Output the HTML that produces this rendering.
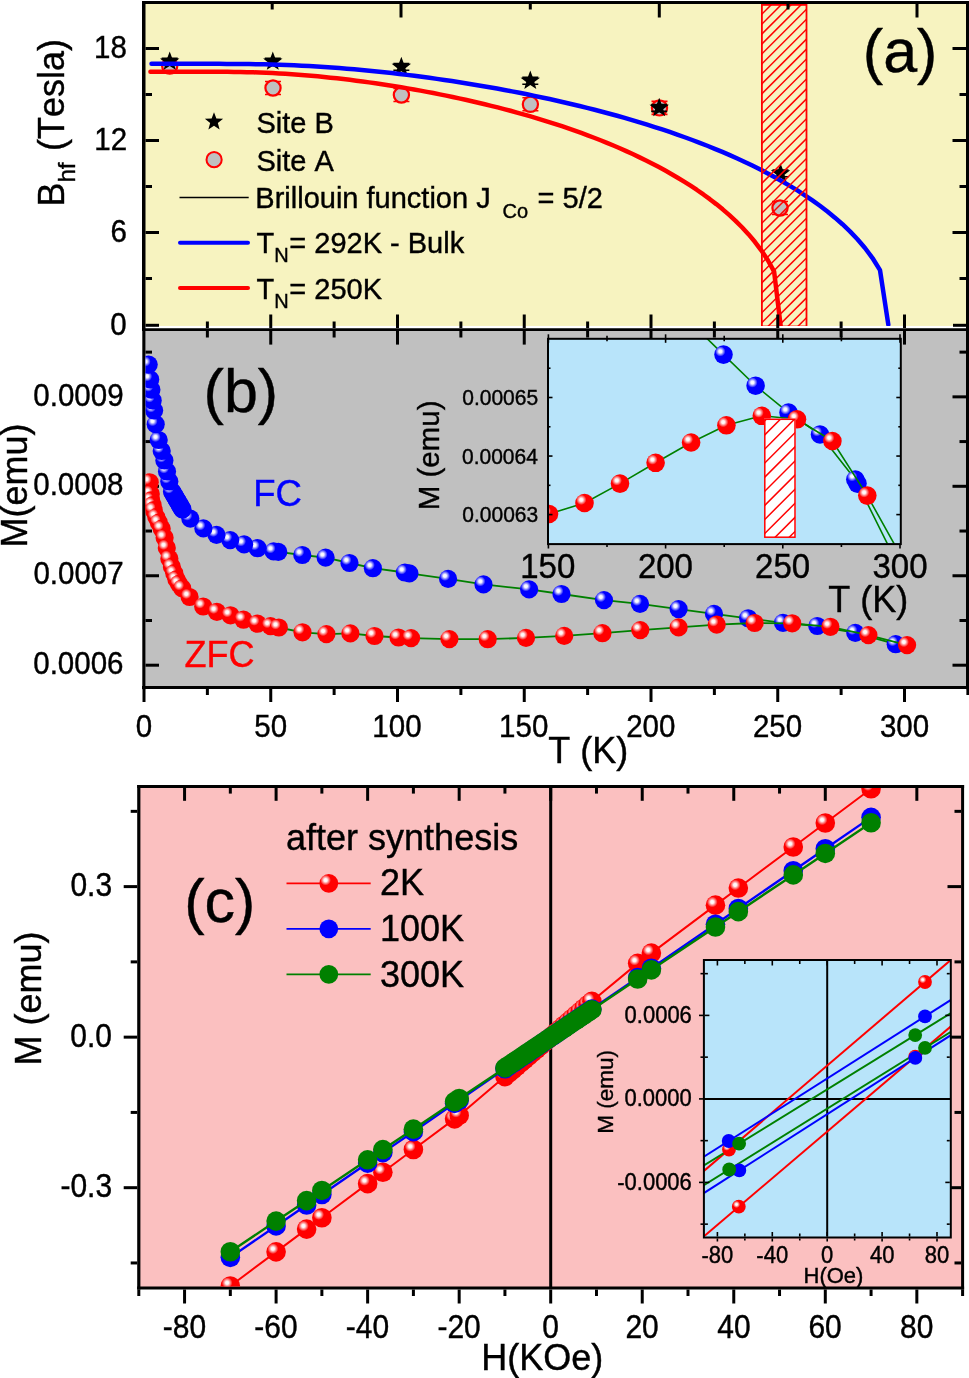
<!DOCTYPE html><html><head><meta charset="utf-8"><style>html,body{margin:0;padding:0;background:#fff}svg{display:block}text{font-kerning:none;font-variant-ligatures:none}svg{will-change:transform}</style></head><body><svg width="969" height="1378" viewBox="0 0 969 1378" font-family='"Liberation Sans", sans-serif'>
<defs>
<radialGradient id="hl"><stop offset="0" stop-color="#fff" stop-opacity="1"/><stop offset="0.3" stop-color="#fff" stop-opacity="0.95"/><stop offset="1" stop-color="#fff" stop-opacity="0"/></radialGradient>
<clipPath id="clipA"><rect x="145.5" y="4" width="820.5" height="322"/></clipPath>
<clipPath id="clipB"><rect x="145.5" y="331" width="820.5" height="355"/></clipPath>
<clipPath id="clipBi"><rect x="548.4" y="338.8" width="351.6" height="204.8"/></clipPath>
<clipPath id="clipC"><rect x="140.2" y="788" width="818" height="498.5"/></clipPath>
<clipPath id="clipCi"><rect x="704" y="961" width="246" height="275.5"/></clipPath>
<clipPath id="hatchA"><rect x="762" y="5" width="44.5" height="321"/></clipPath>
<clipPath id="hatchB"><rect x="764.5" y="419.3" width="30.6" height="118"/></clipPath>
</defs>
<rect x="0" y="0" width="969" height="1378" fill="#fff"/>
<rect x="142" y="1" width="827" height="325" fill="#F7F3C0"/>
<g clip-path="url(#clipA)">
<line x1="161.7" y1="59.5" x2="177.7" y2="59.5" stroke="#f00" stroke-width="1.6" />
<line x1="161.7" y1="72.5" x2="177.7" y2="72.5" stroke="#f00" stroke-width="1.6" />
<line x1="169.7" y1="59.5" x2="169.7" y2="72.5" stroke="#f00" stroke-width="1.6" />
<circle cx="169.7" cy="66" r="7.6" fill="#C0C0C0" stroke="#f00" stroke-width="2.2"/>
<line x1="265" y1="81.5" x2="281" y2="81.5" stroke="#f00" stroke-width="1.6" />
<line x1="265" y1="94.5" x2="281" y2="94.5" stroke="#f00" stroke-width="1.6" />
<line x1="273" y1="81.5" x2="273" y2="94.5" stroke="#f00" stroke-width="1.6" />
<circle cx="273" cy="88" r="7.6" fill="#C0C0C0" stroke="#f00" stroke-width="2.2"/>
<line x1="393.4" y1="88.5" x2="409.4" y2="88.5" stroke="#f00" stroke-width="1.6" />
<line x1="393.4" y1="101.5" x2="409.4" y2="101.5" stroke="#f00" stroke-width="1.6" />
<line x1="401.4" y1="88.5" x2="401.4" y2="101.5" stroke="#f00" stroke-width="1.6" />
<circle cx="401.4" cy="95" r="7.6" fill="#C0C0C0" stroke="#f00" stroke-width="2.2"/>
<line x1="522.4" y1="97.8" x2="538.4" y2="97.8" stroke="#f00" stroke-width="1.6" />
<line x1="522.4" y1="110.8" x2="538.4" y2="110.8" stroke="#f00" stroke-width="1.6" />
<line x1="530.4" y1="97.8" x2="530.4" y2="110.8" stroke="#f00" stroke-width="1.6" />
<circle cx="530.4" cy="104.3" r="7.6" fill="#C0C0C0" stroke="#f00" stroke-width="2.2"/>
<line x1="651.5" y1="101.4" x2="667.5" y2="101.4" stroke="#f00" stroke-width="1.6" />
<line x1="651.5" y1="114.4" x2="667.5" y2="114.4" stroke="#f00" stroke-width="1.6" />
<line x1="659.5" y1="101.4" x2="659.5" y2="114.4" stroke="#f00" stroke-width="1.6" />
<circle cx="659.5" cy="107.9" r="7.6" fill="#C0C0C0" stroke="#f00" stroke-width="2.2"/>
<line x1="772" y1="201.5" x2="788" y2="201.5" stroke="#f00" stroke-width="1.6" />
<line x1="772" y1="214.5" x2="788" y2="214.5" stroke="#f00" stroke-width="1.6" />
<line x1="780" y1="201.5" x2="780" y2="214.5" stroke="#f00" stroke-width="1.6" />
<circle cx="780" cy="208" r="7.6" fill="#C0C0C0" stroke="#f00" stroke-width="2.2"/>
<line x1="161.7" y1="65" x2="177.7" y2="65" stroke="#000" stroke-width="1.6" />
<line x1="161.7" y1="58.2" x2="177.7" y2="58.2" stroke="#000" stroke-width="1.6" />
<path d="M169.7,51.4 L172.22,58.13 L179.4,58.45 L173.77,62.92 L175.7,69.85 L169.7,65.88 L163.7,69.85 L165.63,62.92 L160,58.45 L167.18,58.13Z" fill="#000"/>
<line x1="264.8" y1="65" x2="280.8" y2="65" stroke="#000" stroke-width="1.6" />
<line x1="264.8" y1="58.2" x2="280.8" y2="58.2" stroke="#000" stroke-width="1.6" />
<path d="M272.8,51.4 L275.32,58.13 L282.5,58.45 L276.87,62.92 L278.8,69.85 L272.8,65.88 L266.8,69.85 L268.73,62.92 L263.1,58.45 L270.28,58.13Z" fill="#000"/>
<line x1="393.35" y1="70.25" x2="409.35" y2="70.25" stroke="#000" stroke-width="1.6" />
<line x1="393.35" y1="63.45" x2="409.35" y2="63.45" stroke="#000" stroke-width="1.6" />
<path d="M401.35,56.65 L403.87,63.38 L411.05,63.7 L405.42,68.17 L407.35,75.1 L401.35,71.13 L395.35,75.1 L397.28,68.17 L391.65,63.7 L398.83,63.38Z" fill="#000"/>
<line x1="522.3" y1="84.2" x2="538.3" y2="84.2" stroke="#000" stroke-width="1.6" />
<line x1="522.3" y1="77.4" x2="538.3" y2="77.4" stroke="#000" stroke-width="1.6" />
<path d="M530.3,70.6 L532.82,77.33 L540,77.65 L534.37,82.12 L536.3,89.05 L530.3,85.08 L524.3,89.05 L526.23,82.12 L520.6,77.65 L527.78,77.33Z" fill="#000"/>
<line x1="651.2" y1="111.4" x2="667.2" y2="111.4" stroke="#000" stroke-width="1.6" />
<line x1="651.2" y1="104.6" x2="667.2" y2="104.6" stroke="#000" stroke-width="1.6" />
<path d="M659.2,97.8 L661.72,104.53 L668.9,104.85 L663.27,109.32 L665.2,116.25 L659.2,112.28 L653.2,116.25 L655.13,109.32 L649.5,104.85 L656.68,104.53Z" fill="#000"/>
<line x1="772.5" y1="176.8" x2="788.5" y2="176.8" stroke="#000" stroke-width="1.6" />
<line x1="772.5" y1="170" x2="788.5" y2="170" stroke="#000" stroke-width="1.6" />
<path d="M780.5,163.2 L783.02,169.93 L790.2,170.25 L784.57,174.72 L786.5,181.65 L780.5,177.68 L774.5,181.65 L776.43,174.72 L770.8,170.25 L777.98,169.93Z" fill="#000"/>
<polyline points="151.51,63.84 159.02,63.84 166.53,63.84 174.04,63.84 181.55,63.84 189.06,63.84 196.57,63.84 204.08,63.84 211.59,63.85 219.1,63.86 226.61,63.88 234.12,63.92 241.63,63.98 249.14,64.07 256.65,64.19 264.16,64.34 271.67,64.53 279.18,64.75 286.69,65.02 294.2,65.33 301.72,65.68 309.23,66.08 316.74,66.51 324.25,66.99 331.76,67.51 339.27,68.08 346.78,68.68 354.29,69.32 361.8,70 369.31,70.72 376.82,71.48 384.33,72.28 391.84,73.11 399.35,73.98 406.86,74.89 414.37,75.83 421.88,76.81 429.39,77.83 436.9,78.88 444.41,79.96 451.92,81.08 459.43,82.24 466.94,83.43 474.45,84.66 481.96,85.93 489.47,87.23 496.98,88.57 504.49,89.95 512,91.37 519.51,92.82 527.02,94.32 534.53,95.86 542.04,97.44 549.55,99.06 557.06,100.73 564.57,102.44 572.08,104.19 579.59,106 587.1,107.85 594.61,109.76 602.12,111.72 609.63,113.73 617.15,115.79 624.66,117.92 632.17,120.1 639.68,122.34 647.19,124.65 654.7,127.03 662.21,129.47 669.72,131.99 677.23,134.58 684.74,137.25 692.25,140 699.76,142.84 707.27,145.76 714.78,148.79 722.29,151.91 729.8,155.15 737.31,158.49 744.82,161.96 752.33,165.55 759.84,169.28 767.35,173.16 774.86,177.2 782.37,181.42 789.88,185.82 797.39,190.44 804.9,195.28 812.41,200.39 819.92,205.79 827.43,211.52 834.94,217.65 842.45,224.23 849.96,231.38 857.47,239.23 864.98,247.99 872.49,258.04 880,270.07 888.3,324.5" fill="none" stroke="#00f" stroke-width="4.5" stroke-linejoin="round" stroke-linecap="round"/>
<polyline points="150.43,71.66 156.86,71.66 163.29,71.66 169.72,71.66 176.15,71.66 182.58,71.66 189.01,71.66 195.44,71.66 201.87,71.67 208.3,71.68 214.73,71.7 221.16,71.74 227.59,71.8 234.02,71.88 240.45,72 246.88,72.14 253.31,72.33 259.74,72.55 266.17,72.81 272.6,73.11 279.03,73.45 285.46,73.83 291.89,74.25 298.32,74.72 304.75,75.22 311.18,75.77 317.61,76.35 324.04,76.98 330.47,77.64 336.9,78.34 343.33,79.07 349.76,79.84 356.19,80.65 362.62,81.5 369.05,82.38 375.48,83.29 381.91,84.24 388.34,85.23 394.77,86.24 401.2,87.3 407.63,88.38 414.06,89.51 420.49,90.66 426.92,91.86 433.35,93.08 439.78,94.35 446.21,95.65 452.64,96.99 459.07,98.36 465.5,99.77 471.93,101.23 478.36,102.72 484.79,104.25 491.22,105.82 497.65,107.44 504.08,109.1 510.51,110.8 516.94,112.56 523.37,114.35 529.8,116.2 536.23,118.1 542.66,120.05 549.09,122.05 555.52,124.11 561.95,126.23 568.38,128.41 574.81,130.65 581.24,132.95 587.67,135.32 594.1,137.76 600.53,140.27 606.96,142.86 613.39,145.53 619.82,148.29 626.25,151.13 632.68,154.06 639.11,157.09 645.54,160.23 651.97,163.47 658.4,166.83 664.83,170.32 671.26,173.94 677.69,177.7 684.12,181.62 690.55,185.71 696.98,189.98 703.41,194.46 709.84,199.16 716.27,204.11 722.7,209.35 729.13,214.91 735.56,220.85 741.99,227.24 748.42,234.17 754.85,241.79 761.28,250.29 767.71,260.03 774.14,271.7 780.6,325.5" fill="none" stroke="#f00" stroke-width="4.5" stroke-linejoin="round" stroke-linecap="round"/>
<g clip-path="url(#hatchA)">
<line x1="740" y1="-63.5" x2="830" y2="-153.5" stroke="#f00" stroke-width="1.5" />
<line x1="740" y1="-53.55" x2="830" y2="-143.55" stroke="#f00" stroke-width="1.5" />
<line x1="740" y1="-43.6" x2="830" y2="-133.6" stroke="#f00" stroke-width="1.5" />
<line x1="740" y1="-33.65" x2="830" y2="-123.65" stroke="#f00" stroke-width="1.5" />
<line x1="740" y1="-23.7" x2="830" y2="-113.7" stroke="#f00" stroke-width="1.5" />
<line x1="740" y1="-13.75" x2="830" y2="-103.75" stroke="#f00" stroke-width="1.5" />
<line x1="740" y1="-3.8" x2="830" y2="-93.8" stroke="#f00" stroke-width="1.5" />
<line x1="740" y1="6.15" x2="830" y2="-83.85" stroke="#f00" stroke-width="1.5" />
<line x1="740" y1="16.1" x2="830" y2="-73.9" stroke="#f00" stroke-width="1.5" />
<line x1="740" y1="26.05" x2="830" y2="-63.95" stroke="#f00" stroke-width="1.5" />
<line x1="740" y1="36" x2="830" y2="-54" stroke="#f00" stroke-width="1.5" />
<line x1="740" y1="45.95" x2="830" y2="-44.05" stroke="#f00" stroke-width="1.5" />
<line x1="740" y1="55.9" x2="830" y2="-34.1" stroke="#f00" stroke-width="1.5" />
<line x1="740" y1="65.85" x2="830" y2="-24.15" stroke="#f00" stroke-width="1.5" />
<line x1="740" y1="75.8" x2="830" y2="-14.2" stroke="#f00" stroke-width="1.5" />
<line x1="740" y1="85.75" x2="830" y2="-4.25" stroke="#f00" stroke-width="1.5" />
<line x1="740" y1="95.7" x2="830" y2="5.7" stroke="#f00" stroke-width="1.5" />
<line x1="740" y1="105.65" x2="830" y2="15.65" stroke="#f00" stroke-width="1.5" />
<line x1="740" y1="115.6" x2="830" y2="25.6" stroke="#f00" stroke-width="1.5" />
<line x1="740" y1="125.55" x2="830" y2="35.55" stroke="#f00" stroke-width="1.5" />
<line x1="740" y1="135.5" x2="830" y2="45.5" stroke="#f00" stroke-width="1.5" />
<line x1="740" y1="145.45" x2="830" y2="55.45" stroke="#f00" stroke-width="1.5" />
<line x1="740" y1="155.4" x2="830" y2="65.4" stroke="#f00" stroke-width="1.5" />
<line x1="740" y1="165.35" x2="830" y2="75.35" stroke="#f00" stroke-width="1.5" />
<line x1="740" y1="175.3" x2="830" y2="85.3" stroke="#f00" stroke-width="1.5" />
<line x1="740" y1="185.25" x2="830" y2="95.25" stroke="#f00" stroke-width="1.5" />
<line x1="740" y1="195.2" x2="830" y2="105.2" stroke="#f00" stroke-width="1.5" />
<line x1="740" y1="205.15" x2="830" y2="115.15" stroke="#f00" stroke-width="1.5" />
<line x1="740" y1="215.1" x2="830" y2="125.1" stroke="#f00" stroke-width="1.5" />
<line x1="740" y1="225.05" x2="830" y2="135.05" stroke="#f00" stroke-width="1.5" />
<line x1="740" y1="235" x2="830" y2="145" stroke="#f00" stroke-width="1.5" />
<line x1="740" y1="244.95" x2="830" y2="154.95" stroke="#f00" stroke-width="1.5" />
<line x1="740" y1="254.9" x2="830" y2="164.9" stroke="#f00" stroke-width="1.5" />
<line x1="740" y1="264.85" x2="830" y2="174.85" stroke="#f00" stroke-width="1.5" />
<line x1="740" y1="274.8" x2="830" y2="184.8" stroke="#f00" stroke-width="1.5" />
<line x1="740" y1="284.75" x2="830" y2="194.75" stroke="#f00" stroke-width="1.5" />
<line x1="740" y1="294.7" x2="830" y2="204.7" stroke="#f00" stroke-width="1.5" />
<line x1="740" y1="304.65" x2="830" y2="214.65" stroke="#f00" stroke-width="1.5" />
<line x1="740" y1="314.6" x2="830" y2="224.6" stroke="#f00" stroke-width="1.5" />
<line x1="740" y1="324.55" x2="830" y2="234.55" stroke="#f00" stroke-width="1.5" />
<line x1="740" y1="334.5" x2="830" y2="244.5" stroke="#f00" stroke-width="1.5" />
<line x1="740" y1="344.45" x2="830" y2="254.45" stroke="#f00" stroke-width="1.5" />
<line x1="740" y1="354.4" x2="830" y2="264.4" stroke="#f00" stroke-width="1.5" />
<line x1="740" y1="364.35" x2="830" y2="274.35" stroke="#f00" stroke-width="1.5" />
<line x1="740" y1="374.3" x2="830" y2="284.3" stroke="#f00" stroke-width="1.5" />
<line x1="740" y1="384.25" x2="830" y2="294.25" stroke="#f00" stroke-width="1.5" />
<line x1="740" y1="394.2" x2="830" y2="304.2" stroke="#f00" stroke-width="1.5" />
<line x1="740" y1="404.15" x2="830" y2="314.15" stroke="#f00" stroke-width="1.5" />
<line x1="740" y1="414.1" x2="830" y2="324.1" stroke="#f00" stroke-width="1.5" />
<line x1="740" y1="424.05" x2="830" y2="334.05" stroke="#f00" stroke-width="1.5" />
</g>
<rect x="761.9" y="4.9" width="44.6" height="321.6" fill="none" stroke="#f00" stroke-width="1.8"/>
</g>
<line x1="143.75" y1="1" x2="143.75" y2="331" stroke="#000" stroke-width="3.5" />
<line x1="142" y1="2.5" x2="969" y2="2.5" stroke="#000" stroke-width="3" />
<line x1="967.5" y1="1" x2="967.5" y2="331" stroke="#000" stroke-width="3" />
<line x1="145.5" y1="278.5" x2="152" y2="278.5" stroke="#000" stroke-width="3" />
<line x1="966" y1="278.5" x2="959.5" y2="278.5" stroke="#000" stroke-width="3" />
<line x1="145.5" y1="232.5" x2="159" y2="232.5" stroke="#000" stroke-width="3" />
<line x1="966" y1="232.5" x2="952.5" y2="232.5" stroke="#000" stroke-width="3" />
<line x1="145.5" y1="186.5" x2="152" y2="186.5" stroke="#000" stroke-width="3" />
<line x1="966" y1="186.5" x2="959.5" y2="186.5" stroke="#000" stroke-width="3" />
<line x1="145.5" y1="140.5" x2="159" y2="140.5" stroke="#000" stroke-width="3" />
<line x1="966" y1="140.5" x2="952.5" y2="140.5" stroke="#000" stroke-width="3" />
<line x1="145.5" y1="94.5" x2="152" y2="94.5" stroke="#000" stroke-width="3" />
<line x1="966" y1="94.5" x2="959.5" y2="94.5" stroke="#000" stroke-width="3" />
<line x1="145.5" y1="48.51" x2="159" y2="48.51" stroke="#000" stroke-width="3" />
<line x1="966" y1="48.51" x2="952.5" y2="48.51" stroke="#000" stroke-width="3" />
<line x1="145.5" y1="325.3" x2="159" y2="325.3" stroke="#000" stroke-width="3" />
<line x1="966" y1="325.3" x2="953" y2="325.3" stroke="#000" stroke-width="3" />
<line x1="272.2" y1="4" x2="272.2" y2="9.5" stroke="#000" stroke-width="3" />
<line x1="401" y1="4" x2="401" y2="17.5" stroke="#000" stroke-width="3" />
<line x1="530.3" y1="4" x2="530.3" y2="9.5" stroke="#000" stroke-width="3" />
<line x1="659.3" y1="4" x2="659.3" y2="17.5" stroke="#000" stroke-width="3" />
<line x1="788" y1="4" x2="788" y2="9.5" stroke="#000" stroke-width="3" />
<line x1="917" y1="4" x2="917" y2="17.5" stroke="#000" stroke-width="3" />
<line x1="207.38" y1="328" x2="207.38" y2="321.5" stroke="#000" stroke-width="3" />
<line x1="270.75" y1="328" x2="270.75" y2="314.5" stroke="#000" stroke-width="3" />
<line x1="334.12" y1="328" x2="334.12" y2="321.5" stroke="#000" stroke-width="3" />
<line x1="397.5" y1="328" x2="397.5" y2="314.5" stroke="#000" stroke-width="3" />
<line x1="460.88" y1="328" x2="460.88" y2="321.5" stroke="#000" stroke-width="3" />
<line x1="524.25" y1="328" x2="524.25" y2="314.5" stroke="#000" stroke-width="3" />
<line x1="587.62" y1="328" x2="587.62" y2="321.5" stroke="#000" stroke-width="3" />
<line x1="651" y1="328" x2="651" y2="314.5" stroke="#000" stroke-width="3" />
<line x1="714.38" y1="328" x2="714.38" y2="321.5" stroke="#000" stroke-width="3" />
<line x1="777.75" y1="328" x2="777.75" y2="314.5" stroke="#000" stroke-width="3" />
<line x1="841.12" y1="328" x2="841.12" y2="321.5" stroke="#000" stroke-width="3" />
<line x1="904.5" y1="328" x2="904.5" y2="314.5" stroke="#000" stroke-width="3" />
<text transform="translate(110.35,334.8) scale(1,1.09)" font-size="29.5" fill="#000" stroke="#000" stroke-width="0.4" >0</text>
<text transform="translate(110.49,241.6) scale(1,1.09)" font-size="29.5" fill="#000" stroke="#000" stroke-width="0.4" >6</text>
<text transform="translate(94.27,149.6) scale(1,1.09)" font-size="29.5" fill="#000" stroke="#000" stroke-width="0.4" >12</text>
<text transform="translate(94.07,57.61) scale(1,1.09)" font-size="29.5" fill="#000" stroke="#000" stroke-width="0.4" >18</text>
<text transform="translate(64.2,206.6) rotate(-90)" font-size="36" stroke="#000" stroke-width="0.4">B<tspan font-size="24" dy="10.8">hf</tspan><tspan dy="-10.8" dx="1.5"> (Tesla)</tspan></text>
<text x="862.82" y="72.2" font-size="61" fill="#000" stroke="#000" stroke-width="0.4" >(a)</text>
<path d="M214,112.2 L216.37,118.54 L223.13,118.83 L217.83,123.05 L219.64,129.57 L214,125.83 L208.36,129.57 L210.17,123.05 L204.87,118.83 L211.63,118.54Z" fill="#000"/>
<circle cx="214.1" cy="159.7" r="7.6" fill="#C0C0C0" stroke="#f00" stroke-width="2"/>
<line x1="179.5" y1="197.5" x2="248.7" y2="197.5" stroke="#000" stroke-width="1.5" />
<line x1="180" y1="242.7" x2="248" y2="242.7" stroke="#00f" stroke-width="4" stroke-linecap="round"/>
<line x1="180" y1="287.9" x2="248" y2="287.9" stroke="#f00" stroke-width="4" stroke-linecap="round"/>
<text x="256.38" y="133.2" font-size="29" fill="#000" stroke="#000" stroke-width="0.4" >Site B</text>
<text x="256.38" y="170.8" font-size="29" fill="#000" stroke="#000" stroke-width="0.4" >Site A</text>
<text x="255.32" y="208.2" font-size="29" fill="#000" stroke="#000" stroke-width="0.4" >Brillouin function J</text>
<text x="502.48" y="217.5" font-size="20" fill="#000" stroke="#000" stroke-width="0.4" >Co</text>
<text x="537.58" y="208.2" font-size="29" fill="#000" stroke="#000" stroke-width="0.4" >= 5/2</text>
<text x="256.55" y="253.3" font-size="29" fill="#000" stroke="#000" stroke-width="0.4" >T</text>
<text x="274.16" y="262.3" font-size="20" fill="#000" stroke="#000" stroke-width="0.4" >N</text>
<text x="289.28" y="253.3" font-size="29" fill="#000" stroke="#000" stroke-width="0.4" >= 292K - Bulk</text>
<text x="256.55" y="298.5" font-size="29" fill="#000" stroke="#000" stroke-width="0.4" >T</text>
<text x="274.16" y="307.5" font-size="20" fill="#000" stroke="#000" stroke-width="0.4" >N</text>
<text x="289.28" y="298.5" font-size="29" fill="#000" stroke="#000" stroke-width="0.4" >= 250K</text>
<rect x="142" y="331" width="827" height="355" fill="#C0C0C0"/>
<line x1="143.9" y1="329" x2="143.9" y2="689.2" stroke="#000" stroke-width="3" />
<line x1="142" y1="329.6" x2="969" y2="329.6" stroke="#000" stroke-width="2.8" />
<line x1="142" y1="687.6" x2="969" y2="687.6" stroke="#000" stroke-width="3" />
<line x1="967.5" y1="329" x2="967.5" y2="689.2" stroke="#000" stroke-width="3" />
<line x1="145.5" y1="665.2" x2="159" y2="665.2" stroke="#000" stroke-width="3" />
<line x1="966" y1="665.2" x2="952.5" y2="665.2" stroke="#000" stroke-width="3" />
<line x1="145.5" y1="620.48" x2="152" y2="620.48" stroke="#000" stroke-width="3" />
<line x1="966" y1="620.48" x2="959.5" y2="620.48" stroke="#000" stroke-width="3" />
<line x1="145.5" y1="575.75" x2="159" y2="575.75" stroke="#000" stroke-width="3" />
<line x1="966" y1="575.75" x2="952.5" y2="575.75" stroke="#000" stroke-width="3" />
<line x1="145.5" y1="531.03" x2="152" y2="531.03" stroke="#000" stroke-width="3" />
<line x1="966" y1="531.03" x2="959.5" y2="531.03" stroke="#000" stroke-width="3" />
<line x1="145.5" y1="486.3" x2="159" y2="486.3" stroke="#000" stroke-width="3" />
<line x1="966" y1="486.3" x2="952.5" y2="486.3" stroke="#000" stroke-width="3" />
<line x1="145.5" y1="441.58" x2="152" y2="441.58" stroke="#000" stroke-width="3" />
<line x1="966" y1="441.58" x2="959.5" y2="441.58" stroke="#000" stroke-width="3" />
<line x1="145.5" y1="396.85" x2="159" y2="396.85" stroke="#000" stroke-width="3" />
<line x1="966" y1="396.85" x2="952.5" y2="396.85" stroke="#000" stroke-width="3" />
<line x1="145.5" y1="352.13" x2="152" y2="352.13" stroke="#000" stroke-width="3" />
<line x1="966" y1="352.13" x2="959.5" y2="352.13" stroke="#000" stroke-width="3" />
<line x1="144" y1="689" x2="144" y2="702" stroke="#000" stroke-width="3" />
<line x1="207.38" y1="331" x2="207.38" y2="337.5" stroke="#000" stroke-width="3" />
<line x1="207.38" y1="689" x2="207.38" y2="695" stroke="#000" stroke-width="3" />
<line x1="270.75" y1="331" x2="270.75" y2="344.6" stroke="#000" stroke-width="3" />
<line x1="270.75" y1="689" x2="270.75" y2="702" stroke="#000" stroke-width="3" />
<line x1="334.12" y1="331" x2="334.12" y2="337.5" stroke="#000" stroke-width="3" />
<line x1="334.12" y1="689" x2="334.12" y2="695" stroke="#000" stroke-width="3" />
<line x1="397.5" y1="331" x2="397.5" y2="344.6" stroke="#000" stroke-width="3" />
<line x1="397.5" y1="689" x2="397.5" y2="702" stroke="#000" stroke-width="3" />
<line x1="460.88" y1="331" x2="460.88" y2="337.5" stroke="#000" stroke-width="3" />
<line x1="460.88" y1="689" x2="460.88" y2="695" stroke="#000" stroke-width="3" />
<line x1="524.25" y1="331" x2="524.25" y2="344.6" stroke="#000" stroke-width="3" />
<line x1="524.25" y1="689" x2="524.25" y2="702" stroke="#000" stroke-width="3" />
<line x1="587.62" y1="331" x2="587.62" y2="337.5" stroke="#000" stroke-width="3" />
<line x1="587.62" y1="689" x2="587.62" y2="695" stroke="#000" stroke-width="3" />
<line x1="651" y1="331" x2="651" y2="344.6" stroke="#000" stroke-width="3" />
<line x1="651" y1="689" x2="651" y2="702" stroke="#000" stroke-width="3" />
<line x1="714.38" y1="331" x2="714.38" y2="337.5" stroke="#000" stroke-width="3" />
<line x1="714.38" y1="689" x2="714.38" y2="695" stroke="#000" stroke-width="3" />
<line x1="777.75" y1="331" x2="777.75" y2="344.6" stroke="#000" stroke-width="3" />
<line x1="777.75" y1="689" x2="777.75" y2="702" stroke="#000" stroke-width="3" />
<line x1="841.12" y1="331" x2="841.12" y2="337.5" stroke="#000" stroke-width="3" />
<line x1="841.12" y1="689" x2="841.12" y2="695" stroke="#000" stroke-width="3" />
<line x1="904.5" y1="331" x2="904.5" y2="344.6" stroke="#000" stroke-width="3" />
<line x1="904.5" y1="689" x2="904.5" y2="702" stroke="#000" stroke-width="3" />
<line x1="967.88" y1="689" x2="967.88" y2="695" stroke="#000" stroke-width="3" />
<text transform="translate(33.27,673.9) scale(1,1.09)" font-size="29.5" fill="#000" stroke="#000" stroke-width="0.4" >0.0006</text>
<text transform="translate(33.46,584.45) scale(1,1.09)" font-size="29.5" fill="#000" stroke="#000" stroke-width="0.4" >0.0007</text>
<text transform="translate(33.25,495) scale(1,1.09)" font-size="29.5" fill="#000" stroke="#000" stroke-width="0.4" >0.0008</text>
<text transform="translate(33.37,405.55) scale(1,1.09)" font-size="29.5" fill="#000" stroke="#000" stroke-width="0.4" >0.0009</text>
<text transform="translate(135.8,737.2) scale(1,1.09)" font-size="29.5" fill="#000" stroke="#000" stroke-width="0.4" >0</text>
<text transform="translate(254.33,737.2) scale(1,1.09)" font-size="29.5" fill="#000" stroke="#000" stroke-width="0.4" >50</text>
<text transform="translate(372.34,737.2) scale(1,1.09)" font-size="29.5" fill="#000" stroke="#000" stroke-width="0.4" >100</text>
<text transform="translate(499.09,737.2) scale(1,1.09)" font-size="29.5" fill="#000" stroke="#000" stroke-width="0.4" >150</text>
<text transform="translate(626.22,737.2) scale(1,1.09)" font-size="29.5" fill="#000" stroke="#000" stroke-width="0.4" >200</text>
<text transform="translate(752.97,737.2) scale(1,1.09)" font-size="29.5" fill="#000" stroke="#000" stroke-width="0.4" >250</text>
<text transform="translate(879.9,737.2) scale(1,1.09)" font-size="29.5" fill="#000" stroke="#000" stroke-width="0.4" >300</text>
<text x="548.29" y="762.5" font-size="36" fill="#000" stroke="#000" stroke-width="0.4" >T (K)</text>
<text transform="translate(27.2,547.45) rotate(-90)" font-size="36" fill="#000" stroke="#000" stroke-width="0.4">M(emu)</text>
<g clip-path="url(#clipB)">
<polyline points="148.7,364.6 150.2,379.4 151.4,389.7 152.7,400.5 154.1,410.5 155.7,424.2 158.7,440 161.7,451 164.4,460.5 167,471.5 169.3,481.5 172,491.5 172.75,492.79 173.5,494.07 174.25,495.36 175,496.64 175.75,497.93 176.5,499.21 177.25,500.5 178,501.79 178.75,503.07 179.5,504.36 180.25,505.64 181,506.93 181.75,508.21 182.5,509.5 190.3,518.6 203.4,528.4 216.5,534.9 230.2,540.1 244.1,544.4 257.6,548.2 273.6,551.4 278.3,551.9 302.3,555 325.6,557.6 349.5,563 372.9,568.2 404.9,572.5 409.4,573.4 448.1,578.9 483.5,584.4 529.1,589.4 561.5,594 604,600.1 640,603.9 678.6,609.1 714,613.9 748.2,618.3 783,622.8 817.3,626 855.3,632.9 895.7,644.2" fill="none" stroke="#008000" stroke-width="1.8" stroke-linejoin="round" />
<circle cx="895.7" cy="644.2" r="9.1" fill="#00f"/>
<circle cx="892.5" cy="641.1" r="5.2" fill="url(#hl)"/>
<circle cx="855.3" cy="632.9" r="9.1" fill="#00f"/>
<circle cx="852.1" cy="629.8" r="5.2" fill="url(#hl)"/>
<circle cx="817.3" cy="626" r="9.1" fill="#00f"/>
<circle cx="814.1" cy="622.9" r="5.2" fill="url(#hl)"/>
<circle cx="783" cy="622.8" r="9.1" fill="#00f"/>
<circle cx="779.8" cy="619.7" r="5.2" fill="url(#hl)"/>
<circle cx="748.2" cy="618.3" r="9.1" fill="#00f"/>
<circle cx="745" cy="615.2" r="5.2" fill="url(#hl)"/>
<circle cx="714" cy="613.9" r="9.1" fill="#00f"/>
<circle cx="710.8" cy="610.8" r="5.2" fill="url(#hl)"/>
<circle cx="678.6" cy="609.1" r="9.1" fill="#00f"/>
<circle cx="675.4" cy="606" r="5.2" fill="url(#hl)"/>
<circle cx="640" cy="603.9" r="9.1" fill="#00f"/>
<circle cx="636.8" cy="600.8" r="5.2" fill="url(#hl)"/>
<circle cx="604" cy="600.1" r="9.1" fill="#00f"/>
<circle cx="600.8" cy="597" r="5.2" fill="url(#hl)"/>
<circle cx="561.5" cy="594" r="9.1" fill="#00f"/>
<circle cx="558.3" cy="590.9" r="5.2" fill="url(#hl)"/>
<circle cx="529.1" cy="589.4" r="9.1" fill="#00f"/>
<circle cx="525.9" cy="586.3" r="5.2" fill="url(#hl)"/>
<circle cx="483.5" cy="584.4" r="9.1" fill="#00f"/>
<circle cx="480.3" cy="581.3" r="5.2" fill="url(#hl)"/>
<circle cx="448.1" cy="578.9" r="9.1" fill="#00f"/>
<circle cx="444.9" cy="575.8" r="5.2" fill="url(#hl)"/>
<circle cx="409.4" cy="573.4" r="9.1" fill="#00f"/>
<circle cx="406.2" cy="570.3" r="5.2" fill="url(#hl)"/>
<circle cx="404.9" cy="572.5" r="9.1" fill="#00f"/>
<circle cx="401.7" cy="569.4" r="5.2" fill="url(#hl)"/>
<circle cx="372.9" cy="568.2" r="9.1" fill="#00f"/>
<circle cx="369.7" cy="565.1" r="5.2" fill="url(#hl)"/>
<circle cx="349.5" cy="563" r="9.1" fill="#00f"/>
<circle cx="346.3" cy="559.9" r="5.2" fill="url(#hl)"/>
<circle cx="325.6" cy="557.6" r="9.1" fill="#00f"/>
<circle cx="322.4" cy="554.5" r="5.2" fill="url(#hl)"/>
<circle cx="302.3" cy="555" r="9.1" fill="#00f"/>
<circle cx="299.1" cy="551.9" r="5.2" fill="url(#hl)"/>
<circle cx="278.3" cy="551.9" r="9.1" fill="#00f"/>
<circle cx="275.1" cy="548.8" r="5.2" fill="url(#hl)"/>
<circle cx="273.6" cy="551.4" r="9.1" fill="#00f"/>
<circle cx="270.4" cy="548.3" r="5.2" fill="url(#hl)"/>
<circle cx="257.6" cy="548.2" r="9.1" fill="#00f"/>
<circle cx="254.4" cy="545.1" r="5.2" fill="url(#hl)"/>
<circle cx="244.1" cy="544.4" r="9.1" fill="#00f"/>
<circle cx="240.9" cy="541.3" r="5.2" fill="url(#hl)"/>
<circle cx="230.2" cy="540.1" r="9.1" fill="#00f"/>
<circle cx="227" cy="537" r="5.2" fill="url(#hl)"/>
<circle cx="216.5" cy="534.9" r="9.1" fill="#00f"/>
<circle cx="213.3" cy="531.8" r="5.2" fill="url(#hl)"/>
<circle cx="203.4" cy="528.4" r="9.1" fill="#00f"/>
<circle cx="200.2" cy="525.3" r="5.2" fill="url(#hl)"/>
<circle cx="190.3" cy="518.6" r="9.1" fill="#00f"/>
<circle cx="187.1" cy="515.5" r="5.2" fill="url(#hl)"/>
<circle cx="182.5" cy="509.5" r="9.1" fill="#00f"/>
<circle cx="179.3" cy="506.4" r="5.2" fill="url(#hl)"/>
<circle cx="181.75" cy="508.21" r="9.1" fill="#00f"/>
<circle cx="178.55" cy="505.11" r="5.2" fill="url(#hl)"/>
<circle cx="181" cy="506.93" r="9.1" fill="#00f"/>
<circle cx="177.8" cy="503.83" r="5.2" fill="url(#hl)"/>
<circle cx="180.25" cy="505.64" r="9.1" fill="#00f"/>
<circle cx="177.05" cy="502.54" r="5.2" fill="url(#hl)"/>
<circle cx="179.5" cy="504.36" r="9.1" fill="#00f"/>
<circle cx="176.3" cy="501.26" r="5.2" fill="url(#hl)"/>
<circle cx="178.75" cy="503.07" r="9.1" fill="#00f"/>
<circle cx="175.55" cy="499.97" r="5.2" fill="url(#hl)"/>
<circle cx="178" cy="501.79" r="9.1" fill="#00f"/>
<circle cx="174.8" cy="498.69" r="5.2" fill="url(#hl)"/>
<circle cx="177.25" cy="500.5" r="9.1" fill="#00f"/>
<circle cx="174.05" cy="497.4" r="5.2" fill="url(#hl)"/>
<circle cx="176.5" cy="499.21" r="9.1" fill="#00f"/>
<circle cx="173.3" cy="496.11" r="5.2" fill="url(#hl)"/>
<circle cx="175.75" cy="497.93" r="9.1" fill="#00f"/>
<circle cx="172.55" cy="494.83" r="5.2" fill="url(#hl)"/>
<circle cx="175" cy="496.64" r="9.1" fill="#00f"/>
<circle cx="171.8" cy="493.54" r="5.2" fill="url(#hl)"/>
<circle cx="174.25" cy="495.36" r="9.1" fill="#00f"/>
<circle cx="171.05" cy="492.26" r="5.2" fill="url(#hl)"/>
<circle cx="173.5" cy="494.07" r="9.1" fill="#00f"/>
<circle cx="170.3" cy="490.97" r="5.2" fill="url(#hl)"/>
<circle cx="172.75" cy="492.79" r="9.1" fill="#00f"/>
<circle cx="169.55" cy="489.69" r="5.2" fill="url(#hl)"/>
<circle cx="172" cy="491.5" r="9.1" fill="#00f"/>
<circle cx="168.8" cy="488.4" r="5.2" fill="url(#hl)"/>
<circle cx="169.3" cy="481.5" r="9.1" fill="#00f"/>
<circle cx="166.1" cy="478.4" r="5.2" fill="url(#hl)"/>
<circle cx="167" cy="471.5" r="9.1" fill="#00f"/>
<circle cx="163.8" cy="468.4" r="5.2" fill="url(#hl)"/>
<circle cx="164.4" cy="460.5" r="9.1" fill="#00f"/>
<circle cx="161.2" cy="457.4" r="5.2" fill="url(#hl)"/>
<circle cx="161.7" cy="451" r="9.1" fill="#00f"/>
<circle cx="158.5" cy="447.9" r="5.2" fill="url(#hl)"/>
<circle cx="158.7" cy="440" r="9.1" fill="#00f"/>
<circle cx="155.5" cy="436.9" r="5.2" fill="url(#hl)"/>
<circle cx="155.7" cy="424.2" r="9.1" fill="#00f"/>
<circle cx="152.5" cy="421.1" r="5.2" fill="url(#hl)"/>
<circle cx="154.1" cy="410.5" r="9.1" fill="#00f"/>
<circle cx="150.9" cy="407.4" r="5.2" fill="url(#hl)"/>
<circle cx="152.7" cy="400.5" r="9.1" fill="#00f"/>
<circle cx="149.5" cy="397.4" r="5.2" fill="url(#hl)"/>
<circle cx="151.4" cy="389.7" r="9.1" fill="#00f"/>
<circle cx="148.2" cy="386.6" r="5.2" fill="url(#hl)"/>
<circle cx="150.2" cy="379.4" r="9.1" fill="#00f"/>
<circle cx="147" cy="376.3" r="5.2" fill="url(#hl)"/>
<circle cx="148.7" cy="364.6" r="9.1" fill="#00f"/>
<circle cx="145.5" cy="361.5" r="5.2" fill="url(#hl)"/>
<polyline points="149.7,482.3 150.8,493.9 151.2,500.4 152.6,505.1 153.7,510.2 156.3,517.1 158.8,522.5 161.7,528.7 164.6,537.8 166.8,547.9 169.35,558.7 171.9,566.9 174.3,573.2 176.4,579.3 178.9,583.8 182.2,588.3 189.6,597 203.2,606.5 216.9,611.9 230.5,615.3 243.5,619.7 257.5,623.7 270.5,626.1 278.8,627.5 302.5,632.3 326.4,634.1 350.4,633.4 374.5,636 398.5,637.5 411.1,638.1 449.4,639.1 487.7,639.2 526,637.9 564.2,635.9 602.4,633.2 640.3,630.1 678.6,627.4 716.7,624.6 754.6,623 792.2,623.3 830.4,626.8 868.4,635.1 907.1,645.1" fill="none" stroke="#008000" stroke-width="1.8" stroke-linejoin="round" />
<circle cx="149.7" cy="482.3" r="9.1" fill="#f00"/>
<circle cx="146.4" cy="479.2" r="5.2" fill="url(#hl)"/>
<circle cx="150.8" cy="493.9" r="9.1" fill="#f00"/>
<circle cx="147.5" cy="490.8" r="5.2" fill="url(#hl)"/>
<circle cx="151.2" cy="500.4" r="9.1" fill="#f00"/>
<circle cx="147.9" cy="497.3" r="5.2" fill="url(#hl)"/>
<circle cx="152.6" cy="505.1" r="9.1" fill="#f00"/>
<circle cx="149.3" cy="502" r="5.2" fill="url(#hl)"/>
<circle cx="153.7" cy="510.2" r="9.1" fill="#f00"/>
<circle cx="150.4" cy="507.1" r="5.2" fill="url(#hl)"/>
<circle cx="156.3" cy="517.1" r="9.1" fill="#f00"/>
<circle cx="153" cy="514" r="5.2" fill="url(#hl)"/>
<circle cx="158.8" cy="522.5" r="9.1" fill="#f00"/>
<circle cx="155.5" cy="519.4" r="5.2" fill="url(#hl)"/>
<circle cx="161.7" cy="528.7" r="9.1" fill="#f00"/>
<circle cx="158.4" cy="525.6" r="5.2" fill="url(#hl)"/>
<circle cx="164.6" cy="537.8" r="9.1" fill="#f00"/>
<circle cx="161.3" cy="534.7" r="5.2" fill="url(#hl)"/>
<circle cx="166.8" cy="547.9" r="9.1" fill="#f00"/>
<circle cx="163.5" cy="544.8" r="5.2" fill="url(#hl)"/>
<circle cx="169.35" cy="558.7" r="9.1" fill="#f00"/>
<circle cx="166.05" cy="555.6" r="5.2" fill="url(#hl)"/>
<circle cx="171.9" cy="566.9" r="9.1" fill="#f00"/>
<circle cx="168.6" cy="563.8" r="5.2" fill="url(#hl)"/>
<circle cx="174.3" cy="573.2" r="9.1" fill="#f00"/>
<circle cx="171" cy="570.1" r="5.2" fill="url(#hl)"/>
<circle cx="176.4" cy="579.3" r="9.1" fill="#f00"/>
<circle cx="173.1" cy="576.2" r="5.2" fill="url(#hl)"/>
<circle cx="178.9" cy="583.8" r="9.1" fill="#f00"/>
<circle cx="175.6" cy="580.7" r="5.2" fill="url(#hl)"/>
<circle cx="182.2" cy="588.3" r="9.1" fill="#f00"/>
<circle cx="178.9" cy="585.2" r="5.2" fill="url(#hl)"/>
<circle cx="189.6" cy="597" r="9.1" fill="#f00"/>
<circle cx="186.3" cy="593.9" r="5.2" fill="url(#hl)"/>
<circle cx="203.2" cy="606.5" r="9.1" fill="#f00"/>
<circle cx="199.9" cy="603.4" r="5.2" fill="url(#hl)"/>
<circle cx="216.9" cy="611.9" r="9.1" fill="#f00"/>
<circle cx="213.6" cy="608.8" r="5.2" fill="url(#hl)"/>
<circle cx="230.5" cy="615.3" r="9.1" fill="#f00"/>
<circle cx="227.2" cy="612.2" r="5.2" fill="url(#hl)"/>
<circle cx="243.5" cy="619.7" r="9.1" fill="#f00"/>
<circle cx="240.2" cy="616.6" r="5.2" fill="url(#hl)"/>
<circle cx="257.5" cy="623.7" r="9.1" fill="#f00"/>
<circle cx="254.2" cy="620.6" r="5.2" fill="url(#hl)"/>
<circle cx="270.5" cy="626.1" r="9.1" fill="#f00"/>
<circle cx="267.2" cy="623" r="5.2" fill="url(#hl)"/>
<circle cx="278.8" cy="627.5" r="9.1" fill="#f00"/>
<circle cx="275.5" cy="624.4" r="5.2" fill="url(#hl)"/>
<circle cx="302.5" cy="632.3" r="9.1" fill="#f00"/>
<circle cx="299.2" cy="629.2" r="5.2" fill="url(#hl)"/>
<circle cx="326.4" cy="634.1" r="9.1" fill="#f00"/>
<circle cx="323.1" cy="631" r="5.2" fill="url(#hl)"/>
<circle cx="350.4" cy="633.4" r="9.1" fill="#f00"/>
<circle cx="347.1" cy="630.3" r="5.2" fill="url(#hl)"/>
<circle cx="374.5" cy="636" r="9.1" fill="#f00"/>
<circle cx="371.2" cy="632.9" r="5.2" fill="url(#hl)"/>
<circle cx="398.5" cy="637.5" r="9.1" fill="#f00"/>
<circle cx="395.2" cy="634.4" r="5.2" fill="url(#hl)"/>
<circle cx="411.1" cy="638.1" r="9.1" fill="#f00"/>
<circle cx="407.8" cy="635" r="5.2" fill="url(#hl)"/>
<circle cx="449.4" cy="639.1" r="9.1" fill="#f00"/>
<circle cx="446.1" cy="636" r="5.2" fill="url(#hl)"/>
<circle cx="487.7" cy="639.2" r="9.1" fill="#f00"/>
<circle cx="484.4" cy="636.1" r="5.2" fill="url(#hl)"/>
<circle cx="526" cy="637.9" r="9.1" fill="#f00"/>
<circle cx="522.7" cy="634.8" r="5.2" fill="url(#hl)"/>
<circle cx="564.2" cy="635.9" r="9.1" fill="#f00"/>
<circle cx="560.9" cy="632.8" r="5.2" fill="url(#hl)"/>
<circle cx="602.4" cy="633.2" r="9.1" fill="#f00"/>
<circle cx="599.1" cy="630.1" r="5.2" fill="url(#hl)"/>
<circle cx="640.3" cy="630.1" r="9.1" fill="#f00"/>
<circle cx="637" cy="627" r="5.2" fill="url(#hl)"/>
<circle cx="678.6" cy="627.4" r="9.1" fill="#f00"/>
<circle cx="675.3" cy="624.3" r="5.2" fill="url(#hl)"/>
<circle cx="716.7" cy="624.6" r="9.1" fill="#f00"/>
<circle cx="713.4" cy="621.5" r="5.2" fill="url(#hl)"/>
<circle cx="754.6" cy="623" r="9.1" fill="#f00"/>
<circle cx="751.3" cy="619.9" r="5.2" fill="url(#hl)"/>
<circle cx="792.2" cy="623.3" r="9.1" fill="#f00"/>
<circle cx="788.9" cy="620.2" r="5.2" fill="url(#hl)"/>
<circle cx="830.4" cy="626.8" r="9.1" fill="#f00"/>
<circle cx="827.1" cy="623.7" r="5.2" fill="url(#hl)"/>
<circle cx="868.4" cy="635.1" r="9.1" fill="#f00"/>
<circle cx="865.1" cy="632" r="5.2" fill="url(#hl)"/>
<circle cx="907.1" cy="645.1" r="9.1" fill="#f00"/>
<circle cx="903.8" cy="642" r="5.2" fill="url(#hl)"/>
</g>
<text x="203.62" y="412.2" font-size="61" fill="#000" stroke="#000" stroke-width="0.4" >(b)</text>
<text x="253.31" y="506" font-size="36.5" fill="#00f" stroke="#00f" stroke-width="0.4" >FC</text>
<text x="184.56" y="666.5" font-size="36" fill="#f00" stroke="#f00" stroke-width="0.4" >ZFC</text>
<rect x="548.4" y="338.8" width="351.6" height="204.8" fill="#B8E4FA"/>
<g clip-path="url(#clipBi)">
<polyline points="655.43,289.01 691.12,323.04 723.5,354.6 755.6,385.7 788.5,412.6 820,434.5 855.3,479.5 857.5,483.6 891.86,552.79" fill="none" stroke="#008000" stroke-width="1.6" stroke-linejoin="round" />
<circle cx="857.5" cy="483.6" r="9.3" fill="#00f"/>
<circle cx="854.3" cy="480.4" r="5.2" fill="url(#hl)"/>
<circle cx="855.3" cy="479.5" r="9.3" fill="#00f"/>
<circle cx="852.1" cy="476.3" r="5.2" fill="url(#hl)"/>
<circle cx="820" cy="434.5" r="9.3" fill="#00f"/>
<circle cx="816.8" cy="431.3" r="5.2" fill="url(#hl)"/>
<circle cx="788.5" cy="412.6" r="9.3" fill="#00f"/>
<circle cx="785.3" cy="409.4" r="5.2" fill="url(#hl)"/>
<circle cx="755.6" cy="385.7" r="9.3" fill="#00f"/>
<circle cx="752.4" cy="382.5" r="5.2" fill="url(#hl)"/>
<circle cx="723.5" cy="354.6" r="9.3" fill="#00f"/>
<circle cx="720.3" cy="351.4" r="5.2" fill="url(#hl)"/>
<polyline points="514.6,520.07 549,514 584.5,503 620,483.6 655.6,462.8 691.1,442.5 726.4,425.3 761.8,415.8 797,419.3 832.4,441 867.3,495.6 902.4,558.68" fill="none" stroke="#008000" stroke-width="1.6" stroke-linejoin="round" />
<circle cx="549" cy="514" r="9.3" fill="#f00"/>
<circle cx="545.8" cy="510.8" r="5.2" fill="url(#hl)"/>
<circle cx="584.5" cy="503" r="9.3" fill="#f00"/>
<circle cx="581.3" cy="499.8" r="5.2" fill="url(#hl)"/>
<circle cx="620" cy="483.6" r="9.3" fill="#f00"/>
<circle cx="616.8" cy="480.4" r="5.2" fill="url(#hl)"/>
<circle cx="655.6" cy="462.8" r="9.3" fill="#f00"/>
<circle cx="652.4" cy="459.6" r="5.2" fill="url(#hl)"/>
<circle cx="691.1" cy="442.5" r="9.3" fill="#f00"/>
<circle cx="687.9" cy="439.3" r="5.2" fill="url(#hl)"/>
<circle cx="726.4" cy="425.3" r="9.3" fill="#f00"/>
<circle cx="723.2" cy="422.1" r="5.2" fill="url(#hl)"/>
<circle cx="761.8" cy="415.8" r="9.3" fill="#f00"/>
<circle cx="758.6" cy="412.6" r="5.2" fill="url(#hl)"/>
<circle cx="797" cy="419.3" r="9.3" fill="#f00"/>
<circle cx="793.8" cy="416.1" r="5.2" fill="url(#hl)"/>
<circle cx="832.4" cy="441" r="9.3" fill="#f00"/>
<circle cx="829.2" cy="437.8" r="5.2" fill="url(#hl)"/>
<circle cx="867.3" cy="495.6" r="9.3" fill="#f00"/>
<circle cx="864.1" cy="492.4" r="5.2" fill="url(#hl)"/>
</g>
<rect x="764.1" y="418.6" width="31.6" height="119.3" fill="#fff"/>
<g clip-path="url(#hatchB)">
<line x1="750" y1="379.1" x2="810" y2="319.1" stroke="#f00" stroke-width="1.5" />
<line x1="750" y1="393.2" x2="810" y2="333.2" stroke="#f00" stroke-width="1.5" />
<line x1="750" y1="407.3" x2="810" y2="347.3" stroke="#f00" stroke-width="1.5" />
<line x1="750" y1="421.4" x2="810" y2="361.4" stroke="#f00" stroke-width="1.5" />
<line x1="750" y1="435.5" x2="810" y2="375.5" stroke="#f00" stroke-width="1.5" />
<line x1="750" y1="449.6" x2="810" y2="389.6" stroke="#f00" stroke-width="1.5" />
<line x1="750" y1="463.7" x2="810" y2="403.7" stroke="#f00" stroke-width="1.5" />
<line x1="750" y1="477.8" x2="810" y2="417.8" stroke="#f00" stroke-width="1.5" />
<line x1="750" y1="491.9" x2="810" y2="431.9" stroke="#f00" stroke-width="1.5" />
<line x1="750" y1="506" x2="810" y2="446" stroke="#f00" stroke-width="1.5" />
<line x1="750" y1="520.1" x2="810" y2="460.1" stroke="#f00" stroke-width="1.5" />
<line x1="750" y1="534.2" x2="810" y2="474.2" stroke="#f00" stroke-width="1.5" />
<line x1="750" y1="548.3" x2="810" y2="488.3" stroke="#f00" stroke-width="1.5" />
<line x1="750" y1="562.4" x2="810" y2="502.4" stroke="#f00" stroke-width="1.5" />
<line x1="750" y1="576.5" x2="810" y2="516.5" stroke="#f00" stroke-width="1.5" />
<line x1="750" y1="590.6" x2="810" y2="530.6" stroke="#f00" stroke-width="1.5" />
<line x1="750" y1="604.7" x2="810" y2="544.7" stroke="#f00" stroke-width="1.5" />
<line x1="750" y1="618.8" x2="810" y2="558.8" stroke="#f00" stroke-width="1.5" />
<line x1="750" y1="632.9" x2="810" y2="572.9" stroke="#f00" stroke-width="1.5" />
<line x1="750" y1="647" x2="810" y2="587" stroke="#f00" stroke-width="1.5" />
<line x1="750" y1="661.1" x2="810" y2="601.1" stroke="#f00" stroke-width="1.5" />
<line x1="750" y1="675.2" x2="810" y2="615.2" stroke="#f00" stroke-width="1.5" />
<line x1="750" y1="689.3" x2="810" y2="629.3" stroke="#f00" stroke-width="1.5" />
<line x1="750" y1="703.4" x2="810" y2="643.4" stroke="#f00" stroke-width="1.5" />
<line x1="750" y1="717.5" x2="810" y2="657.5" stroke="#f00" stroke-width="1.5" />
</g>
<rect x="764.8" y="419.3" width="30.2" height="117.9" fill="none" stroke="#f00" stroke-width="1.5"/>
<rect x="548" y="338.8" width="352.8" height="205.3" fill="none" stroke="#000" stroke-width="2"/>
<line x1="548.4" y1="338.8" x2="548.4" y2="334.3" stroke="#000" stroke-width="1.6" />
<line x1="548.4" y1="544" x2="548.4" y2="548.5" stroke="#000" stroke-width="1.6" />
<line x1="548.4" y1="338.8" x2="548.4" y2="342.8" stroke="#000" stroke-width="1.6" />
<line x1="607" y1="338.8" x2="607" y2="335.8" stroke="#000" stroke-width="1.6" />
<line x1="607" y1="544" x2="607" y2="547" stroke="#000" stroke-width="1.6" />
<line x1="607" y1="338.8" x2="607" y2="341.3" stroke="#000" stroke-width="1.6" />
<line x1="665.6" y1="338.8" x2="665.6" y2="334.3" stroke="#000" stroke-width="1.6" />
<line x1="665.6" y1="544" x2="665.6" y2="548.5" stroke="#000" stroke-width="1.6" />
<line x1="665.6" y1="338.8" x2="665.6" y2="342.8" stroke="#000" stroke-width="1.6" />
<line x1="724.2" y1="338.8" x2="724.2" y2="335.8" stroke="#000" stroke-width="1.6" />
<line x1="724.2" y1="544" x2="724.2" y2="547" stroke="#000" stroke-width="1.6" />
<line x1="724.2" y1="338.8" x2="724.2" y2="341.3" stroke="#000" stroke-width="1.6" />
<line x1="782.8" y1="338.8" x2="782.8" y2="334.3" stroke="#000" stroke-width="1.6" />
<line x1="782.8" y1="544" x2="782.8" y2="548.5" stroke="#000" stroke-width="1.6" />
<line x1="782.8" y1="338.8" x2="782.8" y2="342.8" stroke="#000" stroke-width="1.6" />
<line x1="841.4" y1="338.8" x2="841.4" y2="335.8" stroke="#000" stroke-width="1.6" />
<line x1="841.4" y1="544" x2="841.4" y2="547" stroke="#000" stroke-width="1.6" />
<line x1="841.4" y1="338.8" x2="841.4" y2="341.3" stroke="#000" stroke-width="1.6" />
<line x1="900" y1="338.8" x2="900" y2="334.3" stroke="#000" stroke-width="1.6" />
<line x1="900" y1="544" x2="900" y2="548.5" stroke="#000" stroke-width="1.6" />
<line x1="900" y1="338.8" x2="900" y2="342.8" stroke="#000" stroke-width="1.6" />
<line x1="548" y1="514.6" x2="552.5" y2="514.6" stroke="#000" stroke-width="1.6" />
<line x1="900.8" y1="514.6" x2="896.3" y2="514.6" stroke="#000" stroke-width="1.6" />
<line x1="548" y1="485.32" x2="550.5" y2="485.32" stroke="#000" stroke-width="1.6" />
<line x1="900.8" y1="485.32" x2="898.3" y2="485.32" stroke="#000" stroke-width="1.6" />
<line x1="548" y1="456.05" x2="552.5" y2="456.05" stroke="#000" stroke-width="1.6" />
<line x1="900.8" y1="456.05" x2="896.3" y2="456.05" stroke="#000" stroke-width="1.6" />
<line x1="548" y1="426.77" x2="550.5" y2="426.77" stroke="#000" stroke-width="1.6" />
<line x1="900.8" y1="426.77" x2="898.3" y2="426.77" stroke="#000" stroke-width="1.6" />
<line x1="548" y1="397.5" x2="552.5" y2="397.5" stroke="#000" stroke-width="1.6" />
<line x1="900.8" y1="397.5" x2="896.3" y2="397.5" stroke="#000" stroke-width="1.6" />
<line x1="548" y1="368.22" x2="550.5" y2="368.22" stroke="#000" stroke-width="1.6" />
<line x1="900.8" y1="368.22" x2="898.3" y2="368.22" stroke="#000" stroke-width="1.6" />
<text transform="translate(462.27,405.1) scale(1,1.09)" font-size="21" fill="#000" stroke="#000" stroke-width="0.4" >0.00065</text>
<text transform="translate(462.01,463.65) scale(1,1.09)" font-size="21" fill="#000" stroke="#000" stroke-width="0.4" >0.00064</text>
<text transform="translate(462.31,522.2) scale(1,1.09)" font-size="21" fill="#000" stroke="#000" stroke-width="0.4" >0.00063</text>
<text transform="translate(520.26,578) scale(1,1.09)" font-size="33" fill="#000" stroke="#000" stroke-width="0.4" >150</text>
<text transform="translate(637.89,578) scale(1,1.09)" font-size="33" fill="#000" stroke="#000" stroke-width="0.4" >200</text>
<text transform="translate(755.09,578) scale(1,1.09)" font-size="33" fill="#000" stroke="#000" stroke-width="0.4" >250</text>
<text transform="translate(872.49,578) scale(1,1.09)" font-size="33" fill="#000" stroke="#000" stroke-width="0.4" >300</text>
<text transform="translate(438.9,510.32) rotate(-90)" font-size="29.5" fill="#000" stroke="#000" stroke-width="0.4">M (emu)</text>
<text x="828.19" y="612" font-size="36" fill="#000" stroke="#000" stroke-width="0.4" >T (K)</text>
<rect x="138.8" y="786.4" width="823.8" height="501.6" fill="#FBC0C0"/>
<line x1="550.7" y1="787" x2="550.7" y2="1287" stroke="#000" stroke-width="3" />
<line x1="138.8" y1="784.9" x2="138.8" y2="1289.5" stroke="#000" stroke-width="3.2" />
<line x1="137.2" y1="786.4" x2="964.1" y2="786.4" stroke="#000" stroke-width="3" />
<line x1="137.2" y1="1288" x2="964.1" y2="1288" stroke="#000" stroke-width="3.2" />
<line x1="962.6" y1="784.9" x2="962.6" y2="1289.5" stroke="#000" stroke-width="3" />
<line x1="137.2" y1="1262.96" x2="130.7" y2="1262.96" stroke="#000" stroke-width="3" />
<line x1="961" y1="1262.96" x2="954.5" y2="1262.96" stroke="#000" stroke-width="3" />
<line x1="137.2" y1="1187.69" x2="123.7" y2="1187.69" stroke="#000" stroke-width="3" />
<line x1="961" y1="1187.69" x2="947.5" y2="1187.69" stroke="#000" stroke-width="3" />
<line x1="137.2" y1="1112.42" x2="130.7" y2="1112.42" stroke="#000" stroke-width="3" />
<line x1="961" y1="1112.42" x2="954.5" y2="1112.42" stroke="#000" stroke-width="3" />
<line x1="137.2" y1="1037.15" x2="123.7" y2="1037.15" stroke="#000" stroke-width="3" />
<line x1="961" y1="1037.15" x2="947.5" y2="1037.15" stroke="#000" stroke-width="3" />
<line x1="137.2" y1="961.88" x2="130.7" y2="961.88" stroke="#000" stroke-width="3" />
<line x1="961" y1="961.88" x2="954.5" y2="961.88" stroke="#000" stroke-width="3" />
<line x1="137.2" y1="886.61" x2="123.7" y2="886.61" stroke="#000" stroke-width="3" />
<line x1="961" y1="886.61" x2="947.5" y2="886.61" stroke="#000" stroke-width="3" />
<line x1="137.2" y1="811.34" x2="130.7" y2="811.34" stroke="#000" stroke-width="3" />
<line x1="961" y1="811.34" x2="954.5" y2="811.34" stroke="#000" stroke-width="3" />
<line x1="138.8" y1="1289.5" x2="138.8" y2="1296" stroke="#000" stroke-width="3" />
<line x1="184.56" y1="788" x2="184.56" y2="800.8" stroke="#000" stroke-width="3" />
<line x1="184.56" y1="1289.5" x2="184.56" y2="1303.5" stroke="#000" stroke-width="3" />
<line x1="230.33" y1="788" x2="230.33" y2="793.6" stroke="#000" stroke-width="3" />
<line x1="230.33" y1="1289.5" x2="230.33" y2="1296" stroke="#000" stroke-width="3" />
<line x1="276.1" y1="788" x2="276.1" y2="800.8" stroke="#000" stroke-width="3" />
<line x1="276.1" y1="1289.5" x2="276.1" y2="1303.5" stroke="#000" stroke-width="3" />
<line x1="321.87" y1="788" x2="321.87" y2="793.6" stroke="#000" stroke-width="3" />
<line x1="321.87" y1="1289.5" x2="321.87" y2="1296" stroke="#000" stroke-width="3" />
<line x1="367.63" y1="788" x2="367.63" y2="800.8" stroke="#000" stroke-width="3" />
<line x1="367.63" y1="1289.5" x2="367.63" y2="1303.5" stroke="#000" stroke-width="3" />
<line x1="413.4" y1="788" x2="413.4" y2="793.6" stroke="#000" stroke-width="3" />
<line x1="413.4" y1="1289.5" x2="413.4" y2="1296" stroke="#000" stroke-width="3" />
<line x1="459.17" y1="788" x2="459.17" y2="800.8" stroke="#000" stroke-width="3" />
<line x1="459.17" y1="1289.5" x2="459.17" y2="1303.5" stroke="#000" stroke-width="3" />
<line x1="504.93" y1="788" x2="504.93" y2="793.6" stroke="#000" stroke-width="3" />
<line x1="504.93" y1="1289.5" x2="504.93" y2="1296" stroke="#000" stroke-width="3" />
<line x1="550.7" y1="788" x2="550.7" y2="800.8" stroke="#000" stroke-width="3" />
<line x1="550.7" y1="1289.5" x2="550.7" y2="1303.5" stroke="#000" stroke-width="3" />
<line x1="596.47" y1="788" x2="596.47" y2="793.6" stroke="#000" stroke-width="3" />
<line x1="596.47" y1="1289.5" x2="596.47" y2="1296" stroke="#000" stroke-width="3" />
<line x1="642.23" y1="788" x2="642.23" y2="800.8" stroke="#000" stroke-width="3" />
<line x1="642.23" y1="1289.5" x2="642.23" y2="1303.5" stroke="#000" stroke-width="3" />
<line x1="688" y1="788" x2="688" y2="793.6" stroke="#000" stroke-width="3" />
<line x1="688" y1="1289.5" x2="688" y2="1296" stroke="#000" stroke-width="3" />
<line x1="733.77" y1="788" x2="733.77" y2="800.8" stroke="#000" stroke-width="3" />
<line x1="733.77" y1="1289.5" x2="733.77" y2="1303.5" stroke="#000" stroke-width="3" />
<line x1="779.54" y1="788" x2="779.54" y2="793.6" stroke="#000" stroke-width="3" />
<line x1="779.54" y1="1289.5" x2="779.54" y2="1296" stroke="#000" stroke-width="3" />
<line x1="825.3" y1="788" x2="825.3" y2="800.8" stroke="#000" stroke-width="3" />
<line x1="825.3" y1="1289.5" x2="825.3" y2="1303.5" stroke="#000" stroke-width="3" />
<line x1="871.07" y1="788" x2="871.07" y2="793.6" stroke="#000" stroke-width="3" />
<line x1="871.07" y1="1289.5" x2="871.07" y2="1296" stroke="#000" stroke-width="3" />
<line x1="916.84" y1="788" x2="916.84" y2="800.8" stroke="#000" stroke-width="3" />
<line x1="916.84" y1="1289.5" x2="916.84" y2="1303.5" stroke="#000" stroke-width="3" />
<line x1="962.6" y1="1289.5" x2="962.6" y2="1296" stroke="#000" stroke-width="3" />
<g clip-path="url(#clipC)">
<polyline points="230.33,1285.97 276.1,1251.86 306.62,1229.11 321.87,1217.75 367.63,1183.64 382.87,1172.28 413.4,1149.53 454.59,1118.83 459.17,1115.42 504.93,1076.6 508.89,1073.18 512.84,1069.76 516.79,1066.34 520.74,1062.92 524.7,1059.5 528.65,1056.08 532.6,1052.66 536.55,1049.24 540.51,1045.82 544.46,1042.4 548.41,1038.98 552.36,1035.56 556.32,1032.14 560.27,1028.72 564.22,1025.3 568.17,1021.88 572.13,1018.46 576.08,1015.04 580.03,1011.62 583.99,1008.2 587.94,1004.78 591.89,1001.36 637.66,963.36 651.39,953.09 715.46,905.17 738.34,888.06 793.27,846.98 825.3,823.02 871.07,788.79" fill="none" stroke="#f00" stroke-width="2" stroke-linejoin="round" />
<circle cx="230.33" cy="1285.97" r="9.8" fill="#f00"/>
<circle cx="227.13" cy="1282.77" r="5.4" fill="url(#hl)"/>
<circle cx="276.1" cy="1251.86" r="9.8" fill="#f00"/>
<circle cx="272.9" cy="1248.66" r="5.4" fill="url(#hl)"/>
<circle cx="306.62" cy="1229.11" r="9.8" fill="#f00"/>
<circle cx="303.42" cy="1225.91" r="5.4" fill="url(#hl)"/>
<circle cx="321.87" cy="1217.75" r="9.8" fill="#f00"/>
<circle cx="318.67" cy="1214.55" r="5.4" fill="url(#hl)"/>
<circle cx="367.63" cy="1183.64" r="9.8" fill="#f00"/>
<circle cx="364.43" cy="1180.44" r="5.4" fill="url(#hl)"/>
<circle cx="382.87" cy="1172.28" r="9.8" fill="#f00"/>
<circle cx="379.67" cy="1169.08" r="5.4" fill="url(#hl)"/>
<circle cx="413.4" cy="1149.53" r="9.8" fill="#f00"/>
<circle cx="410.2" cy="1146.33" r="5.4" fill="url(#hl)"/>
<circle cx="454.59" cy="1118.83" r="9.8" fill="#f00"/>
<circle cx="451.39" cy="1115.63" r="5.4" fill="url(#hl)"/>
<circle cx="459.17" cy="1115.42" r="9.8" fill="#f00"/>
<circle cx="455.97" cy="1112.22" r="5.4" fill="url(#hl)"/>
<circle cx="504.93" cy="1076.6" r="9.8" fill="#f00"/>
<circle cx="501.73" cy="1073.4" r="5.4" fill="url(#hl)"/>
<circle cx="508.89" cy="1073.18" r="9.8" fill="#f00"/>
<circle cx="505.69" cy="1069.98" r="5.4" fill="url(#hl)"/>
<circle cx="512.84" cy="1069.76" r="9.8" fill="#f00"/>
<circle cx="509.64" cy="1066.56" r="5.4" fill="url(#hl)"/>
<circle cx="516.79" cy="1066.34" r="9.8" fill="#f00"/>
<circle cx="513.59" cy="1063.14" r="5.4" fill="url(#hl)"/>
<circle cx="520.74" cy="1062.92" r="9.8" fill="#f00"/>
<circle cx="517.54" cy="1059.72" r="5.4" fill="url(#hl)"/>
<circle cx="524.7" cy="1059.5" r="9.8" fill="#f00"/>
<circle cx="521.5" cy="1056.3" r="5.4" fill="url(#hl)"/>
<circle cx="528.65" cy="1056.08" r="9.8" fill="#f00"/>
<circle cx="525.45" cy="1052.88" r="5.4" fill="url(#hl)"/>
<circle cx="532.6" cy="1052.66" r="9.8" fill="#f00"/>
<circle cx="529.4" cy="1049.46" r="5.4" fill="url(#hl)"/>
<circle cx="536.55" cy="1049.24" r="9.8" fill="#f00"/>
<circle cx="533.35" cy="1046.04" r="5.4" fill="url(#hl)"/>
<circle cx="540.51" cy="1045.82" r="9.8" fill="#f00"/>
<circle cx="537.31" cy="1042.62" r="5.4" fill="url(#hl)"/>
<circle cx="544.46" cy="1042.4" r="9.8" fill="#f00"/>
<circle cx="541.26" cy="1039.2" r="5.4" fill="url(#hl)"/>
<circle cx="548.41" cy="1038.98" r="9.8" fill="#f00"/>
<circle cx="545.21" cy="1035.78" r="5.4" fill="url(#hl)"/>
<circle cx="552.36" cy="1035.56" r="9.8" fill="#f00"/>
<circle cx="549.16" cy="1032.36" r="5.4" fill="url(#hl)"/>
<circle cx="556.32" cy="1032.14" r="9.8" fill="#f00"/>
<circle cx="553.12" cy="1028.94" r="5.4" fill="url(#hl)"/>
<circle cx="560.27" cy="1028.72" r="9.8" fill="#f00"/>
<circle cx="557.07" cy="1025.52" r="5.4" fill="url(#hl)"/>
<circle cx="564.22" cy="1025.3" r="9.8" fill="#f00"/>
<circle cx="561.02" cy="1022.1" r="5.4" fill="url(#hl)"/>
<circle cx="568.17" cy="1021.88" r="9.8" fill="#f00"/>
<circle cx="564.97" cy="1018.68" r="5.4" fill="url(#hl)"/>
<circle cx="572.13" cy="1018.46" r="9.8" fill="#f00"/>
<circle cx="568.93" cy="1015.26" r="5.4" fill="url(#hl)"/>
<circle cx="576.08" cy="1015.04" r="9.8" fill="#f00"/>
<circle cx="572.88" cy="1011.84" r="5.4" fill="url(#hl)"/>
<circle cx="580.03" cy="1011.62" r="9.8" fill="#f00"/>
<circle cx="576.83" cy="1008.42" r="5.4" fill="url(#hl)"/>
<circle cx="583.99" cy="1008.2" r="9.8" fill="#f00"/>
<circle cx="580.79" cy="1005" r="5.4" fill="url(#hl)"/>
<circle cx="587.94" cy="1004.78" r="9.8" fill="#f00"/>
<circle cx="584.74" cy="1001.58" r="5.4" fill="url(#hl)"/>
<circle cx="591.89" cy="1001.36" r="9.8" fill="#f00"/>
<circle cx="588.69" cy="998.16" r="5.4" fill="url(#hl)"/>
<circle cx="637.66" cy="963.36" r="9.8" fill="#f00"/>
<circle cx="634.46" cy="960.16" r="5.4" fill="url(#hl)"/>
<circle cx="651.39" cy="953.09" r="9.8" fill="#f00"/>
<circle cx="648.19" cy="949.89" r="5.4" fill="url(#hl)"/>
<circle cx="715.46" cy="905.17" r="9.8" fill="#f00"/>
<circle cx="712.26" cy="901.97" r="5.4" fill="url(#hl)"/>
<circle cx="738.34" cy="888.06" r="9.8" fill="#f00"/>
<circle cx="735.14" cy="884.86" r="5.4" fill="url(#hl)"/>
<circle cx="793.27" cy="846.98" r="9.8" fill="#f00"/>
<circle cx="790.07" cy="843.78" r="5.4" fill="url(#hl)"/>
<circle cx="825.3" cy="823.02" r="9.8" fill="#f00"/>
<circle cx="822.1" cy="819.82" r="5.4" fill="url(#hl)"/>
<circle cx="871.07" cy="788.79" r="9.8" fill="#f00"/>
<circle cx="867.87" cy="785.59" r="5.4" fill="url(#hl)"/>
<polyline points="230.33,1257.37 276.1,1225.94 306.62,1204.98 321.87,1194.51 367.63,1163.08 382.87,1152.62 413.4,1131.65 454.59,1103.37 459.17,1100.23 504.93,1068.8 508.89,1066.08 512.84,1063.37 516.79,1060.66 520.74,1057.94 524.7,1055.23 528.65,1052.51 532.6,1049.8 536.55,1047.08 540.51,1044.37 544.46,1041.66 548.41,1038.94 552.36,1036.23 556.32,1033.51 560.27,1030.8 564.22,1028.08 568.17,1025.37 572.13,1022.66 576.08,1019.94 580.03,1017.23 583.99,1014.51 587.94,1011.8 591.89,1009.08 637.66,977.66 651.39,968.23 715.46,924.23 738.34,908.52 793.27,870.8 825.3,848.8 871.07,817.37" fill="none" stroke="#00f" stroke-width="2.4" stroke-linejoin="round" />
<circle cx="230.33" cy="1257.37" r="9.8" fill="#00f"/>
<circle cx="276.1" cy="1225.94" r="9.8" fill="#00f"/>
<circle cx="306.62" cy="1204.98" r="9.8" fill="#00f"/>
<circle cx="321.87" cy="1194.51" r="9.8" fill="#00f"/>
<circle cx="367.63" cy="1163.08" r="9.8" fill="#00f"/>
<circle cx="382.87" cy="1152.62" r="9.8" fill="#00f"/>
<circle cx="413.4" cy="1131.65" r="9.8" fill="#00f"/>
<circle cx="454.59" cy="1103.37" r="9.8" fill="#00f"/>
<circle cx="459.17" cy="1100.23" r="9.8" fill="#00f"/>
<circle cx="504.93" cy="1068.8" r="9.8" fill="#00f"/>
<circle cx="508.89" cy="1066.08" r="9.8" fill="#00f"/>
<circle cx="512.84" cy="1063.37" r="9.8" fill="#00f"/>
<circle cx="516.79" cy="1060.66" r="9.8" fill="#00f"/>
<circle cx="520.74" cy="1057.94" r="9.8" fill="#00f"/>
<circle cx="524.7" cy="1055.23" r="9.8" fill="#00f"/>
<circle cx="528.65" cy="1052.51" r="9.8" fill="#00f"/>
<circle cx="532.6" cy="1049.8" r="9.8" fill="#00f"/>
<circle cx="536.55" cy="1047.08" r="9.8" fill="#00f"/>
<circle cx="540.51" cy="1044.37" r="9.8" fill="#00f"/>
<circle cx="544.46" cy="1041.66" r="9.8" fill="#00f"/>
<circle cx="548.41" cy="1038.94" r="9.8" fill="#00f"/>
<circle cx="552.36" cy="1036.23" r="9.8" fill="#00f"/>
<circle cx="556.32" cy="1033.51" r="9.8" fill="#00f"/>
<circle cx="560.27" cy="1030.8" r="9.8" fill="#00f"/>
<circle cx="564.22" cy="1028.08" r="9.8" fill="#00f"/>
<circle cx="568.17" cy="1025.37" r="9.8" fill="#00f"/>
<circle cx="572.13" cy="1022.66" r="9.8" fill="#00f"/>
<circle cx="576.08" cy="1019.94" r="9.8" fill="#00f"/>
<circle cx="580.03" cy="1017.23" r="9.8" fill="#00f"/>
<circle cx="583.99" cy="1014.51" r="9.8" fill="#00f"/>
<circle cx="587.94" cy="1011.8" r="9.8" fill="#00f"/>
<circle cx="591.89" cy="1009.08" r="9.8" fill="#00f"/>
<circle cx="637.66" cy="977.66" r="9.8" fill="#00f"/>
<circle cx="651.39" cy="968.23" r="9.8" fill="#00f"/>
<circle cx="715.46" cy="924.23" r="9.8" fill="#00f"/>
<circle cx="738.34" cy="908.52" r="9.8" fill="#00f"/>
<circle cx="793.27" cy="870.8" r="9.8" fill="#00f"/>
<circle cx="825.3" cy="848.8" r="9.8" fill="#00f"/>
<circle cx="871.07" cy="817.37" r="9.8" fill="#00f"/>
<polyline points="230.33,1251.72 276.1,1221.08 306.62,1200.65 321.87,1190.44 367.63,1159.81 382.87,1149.61 413.4,1129.17 454.59,1101.6 459.17,1098.53 504.93,1067.9 508.89,1065.25 512.84,1062.61 516.79,1059.96 520.74,1057.31 524.7,1054.67 528.65,1052.02 532.6,1049.38 536.55,1046.73 540.51,1044.08 544.46,1041.44 548.41,1038.79 552.36,1036.15 556.32,1033.5 560.27,1030.85 564.22,1028.21 568.17,1025.56 572.13,1022.92 576.08,1020.27 580.03,1017.62 583.99,1014.98 587.94,1012.33 591.89,1009.69 637.66,979.05 651.39,969.86 715.46,926.97 738.34,911.65 793.27,874.88 825.3,853.44 871.07,822.8" fill="none" stroke="#008000" stroke-width="2.4" stroke-linejoin="round" />
<circle cx="230.33" cy="1251.72" r="9.8" fill="#008000"/>
<circle cx="276.1" cy="1221.08" r="9.8" fill="#008000"/>
<circle cx="306.62" cy="1200.65" r="9.8" fill="#008000"/>
<circle cx="321.87" cy="1190.44" r="9.8" fill="#008000"/>
<circle cx="367.63" cy="1159.81" r="9.8" fill="#008000"/>
<circle cx="382.87" cy="1149.61" r="9.8" fill="#008000"/>
<circle cx="413.4" cy="1129.17" r="9.8" fill="#008000"/>
<circle cx="454.59" cy="1101.6" r="9.8" fill="#008000"/>
<circle cx="459.17" cy="1098.53" r="9.8" fill="#008000"/>
<circle cx="504.93" cy="1067.9" r="9.8" fill="#008000"/>
<circle cx="508.89" cy="1065.25" r="9.8" fill="#008000"/>
<circle cx="512.84" cy="1062.61" r="9.8" fill="#008000"/>
<circle cx="516.79" cy="1059.96" r="9.8" fill="#008000"/>
<circle cx="520.74" cy="1057.31" r="9.8" fill="#008000"/>
<circle cx="524.7" cy="1054.67" r="9.8" fill="#008000"/>
<circle cx="528.65" cy="1052.02" r="9.8" fill="#008000"/>
<circle cx="532.6" cy="1049.38" r="9.8" fill="#008000"/>
<circle cx="536.55" cy="1046.73" r="9.8" fill="#008000"/>
<circle cx="540.51" cy="1044.08" r="9.8" fill="#008000"/>
<circle cx="544.46" cy="1041.44" r="9.8" fill="#008000"/>
<circle cx="548.41" cy="1038.79" r="9.8" fill="#008000"/>
<circle cx="552.36" cy="1036.15" r="9.8" fill="#008000"/>
<circle cx="556.32" cy="1033.5" r="9.8" fill="#008000"/>
<circle cx="560.27" cy="1030.85" r="9.8" fill="#008000"/>
<circle cx="564.22" cy="1028.21" r="9.8" fill="#008000"/>
<circle cx="568.17" cy="1025.56" r="9.8" fill="#008000"/>
<circle cx="572.13" cy="1022.92" r="9.8" fill="#008000"/>
<circle cx="576.08" cy="1020.27" r="9.8" fill="#008000"/>
<circle cx="580.03" cy="1017.62" r="9.8" fill="#008000"/>
<circle cx="583.99" cy="1014.98" r="9.8" fill="#008000"/>
<circle cx="587.94" cy="1012.33" r="9.8" fill="#008000"/>
<circle cx="591.89" cy="1009.69" r="9.8" fill="#008000"/>
<circle cx="637.66" cy="979.05" r="9.8" fill="#008000"/>
<circle cx="651.39" cy="969.86" r="9.8" fill="#008000"/>
<circle cx="715.46" cy="926.97" r="9.8" fill="#008000"/>
<circle cx="738.34" cy="911.65" r="9.8" fill="#008000"/>
<circle cx="793.27" cy="874.88" r="9.8" fill="#008000"/>
<circle cx="825.3" cy="853.44" r="9.8" fill="#008000"/>
<circle cx="871.07" cy="822.8" r="9.8" fill="#008000"/>
</g>
<text transform="translate(70.41,896.31) scale(1,1.09)" font-size="30" fill="#000" stroke="#000" stroke-width="0.4" >0.3</text>
<text transform="translate(70.27,1046.85) scale(1,1.09)" font-size="30" fill="#000" stroke="#000" stroke-width="0.4" >0.0</text>
<text transform="translate(60.42,1197.39) scale(1,1.09)" font-size="30" fill="#000" stroke="#000" stroke-width="0.4" >-0.3</text>
<text transform="translate(162.8,1338) scale(1,1.09)" font-size="30" fill="#000" stroke="#000" stroke-width="0.4" >-80</text>
<text transform="translate(254.34,1338) scale(1,1.09)" font-size="30" fill="#000" stroke="#000" stroke-width="0.4" >-60</text>
<text transform="translate(345.87,1338) scale(1,1.09)" font-size="30" fill="#000" stroke="#000" stroke-width="0.4" >-40</text>
<text transform="translate(437.41,1338) scale(1,1.09)" font-size="30" fill="#000" stroke="#000" stroke-width="0.4" >-20</text>
<text transform="translate(542.36,1338) scale(1,1.09)" font-size="30" fill="#000" stroke="#000" stroke-width="0.4" >0</text>
<text transform="translate(625.38,1338) scale(1,1.09)" font-size="30" fill="#000" stroke="#000" stroke-width="0.4" >20</text>
<text transform="translate(717.33,1338) scale(1,1.09)" font-size="30" fill="#000" stroke="#000" stroke-width="0.4" >40</text>
<text transform="translate(808.44,1338) scale(1,1.09)" font-size="30" fill="#000" stroke="#000" stroke-width="0.4" >60</text>
<text transform="translate(900.09,1338) scale(1,1.09)" font-size="30" fill="#000" stroke="#000" stroke-width="0.4" >80</text>
<text transform="translate(40.5,1065.45) rotate(-90)" font-size="36" fill="#000" stroke="#000" stroke-width="0.4">M (emu)</text>
<text x="481.35" y="1369.5" font-size="36" fill="#000" stroke="#000" stroke-width="0.4" >H(KOe)</text>
<text x="184.22" y="922.2" font-size="61" fill="#000" stroke="#000" stroke-width="0.4" >(c)</text>
<text x="286.07" y="849.7" font-size="36" fill="#000" stroke="#000" stroke-width="0.4" >after synthesis</text>
<line x1="286.5" y1="883.3" x2="370.7" y2="883.3" stroke="#f00" stroke-width="1.8" />
<circle cx="328.8" cy="883.3" r="9.4" fill="#f00"/>
<circle cx="325.6" cy="880.1" r="5.4" fill="url(#hl)"/>
<text x="380" y="895.2" font-size="36" stroke="#000" stroke-width="0.4">2K</text>
<line x1="286.5" y1="928.8" x2="370.7" y2="928.8" stroke="#00f" stroke-width="1.8" />
<circle cx="328.8" cy="928.8" r="9.4" fill="#00f"/>
<text x="380" y="941.4" font-size="36" stroke="#000" stroke-width="0.4">100K</text>
<line x1="286.5" y1="974.3" x2="370.7" y2="974.3" stroke="#008000" stroke-width="1.8" />
<circle cx="328.8" cy="974.3" r="9.4" fill="#008000"/>
<text x="380" y="986.5" font-size="36" stroke="#000" stroke-width="0.4">300K</text>
<rect x="703.9" y="960" width="246.9" height="277.5" fill="#B8E4FA"/>
<g clip-path="url(#clipCi)">
<line x1="827.2" y1="960" x2="827.2" y2="1237.5" stroke="#000" stroke-width="2" />
<line x1="703.9" y1="1098.9" x2="950.8" y2="1098.9" stroke="#000" stroke-width="2" />
<line x1="690" y1="1248.2" x2="960" y2="1018.6" stroke="#f00" stroke-width="2" />
<line x1="690" y1="1182.83" x2="960" y2="952.09" stroke="#f00" stroke-width="2" />
<line x1="690" y1="1165.56" x2="960" y2="994.18" stroke="#00f" stroke-width="2" />
<line x1="690" y1="1201.91" x2="960" y2="1029.33" stroke="#00f" stroke-width="2" />
<line x1="690" y1="1173.98" x2="960" y2="1007.47" stroke="#008000" stroke-width="2" />
<line x1="690" y1="1193.84" x2="960" y2="1026.16" stroke="#008000" stroke-width="2" />
<circle cx="729" cy="1149.5" r="6.9" fill="#f00"/>
<circle cx="726.7" cy="1147.2" r="3.6" fill="url(#hl)"/>
<circle cx="738.8" cy="1206.7" r="6.9" fill="#f00"/>
<circle cx="736.5" cy="1204.4" r="3.6" fill="url(#hl)"/>
<circle cx="925" cy="982" r="6.9" fill="#f00"/>
<circle cx="922.7" cy="979.7" r="3.6" fill="url(#hl)"/>
<circle cx="915.2" cy="1056.7" r="6.9" fill="#f00"/>
<circle cx="912.9" cy="1054.4" r="3.6" fill="url(#hl)"/>
<circle cx="728.7" cy="1141" r="6.9" fill="#00f"/>
<circle cx="739.3" cy="1170.4" r="6.9" fill="#00f"/>
<circle cx="925" cy="1016.4" r="6.9" fill="#00f"/>
<circle cx="915.3" cy="1057.9" r="6.9" fill="#00f"/>
<circle cx="739.1" cy="1143.7" r="6.9" fill="#008000"/>
<circle cx="729.2" cy="1169.5" r="6.9" fill="#008000"/>
<circle cx="915.2" cy="1035.1" r="6.9" fill="#008000"/>
<circle cx="925" cy="1047.9" r="6.9" fill="#008000"/>
</g>
<rect x="703.9" y="960" width="246.9" height="277.5" fill="none" stroke="#000" stroke-width="2"/>
<line x1="717.4" y1="961" x2="717.4" y2="965.5" stroke="#000" stroke-width="1.6" />
<line x1="717.4" y1="1236.5" x2="717.4" y2="1232" stroke="#000" stroke-width="1.6" />
<line x1="717.4" y1="1238.5" x2="717.4" y2="1241.5" stroke="#000" stroke-width="1.6" />
<line x1="744.85" y1="961" x2="744.85" y2="964" stroke="#000" stroke-width="1.6" />
<line x1="744.85" y1="1236.5" x2="744.85" y2="1233.5" stroke="#000" stroke-width="1.6" />
<line x1="744.85" y1="1238.5" x2="744.85" y2="1240.5" stroke="#000" stroke-width="1.6" />
<line x1="772.3" y1="961" x2="772.3" y2="965.5" stroke="#000" stroke-width="1.6" />
<line x1="772.3" y1="1236.5" x2="772.3" y2="1232" stroke="#000" stroke-width="1.6" />
<line x1="772.3" y1="1238.5" x2="772.3" y2="1241.5" stroke="#000" stroke-width="1.6" />
<line x1="799.75" y1="961" x2="799.75" y2="964" stroke="#000" stroke-width="1.6" />
<line x1="799.75" y1="1236.5" x2="799.75" y2="1233.5" stroke="#000" stroke-width="1.6" />
<line x1="799.75" y1="1238.5" x2="799.75" y2="1240.5" stroke="#000" stroke-width="1.6" />
<line x1="827.2" y1="961" x2="827.2" y2="965.5" stroke="#000" stroke-width="1.6" />
<line x1="827.2" y1="1236.5" x2="827.2" y2="1232" stroke="#000" stroke-width="1.6" />
<line x1="827.2" y1="1238.5" x2="827.2" y2="1241.5" stroke="#000" stroke-width="1.6" />
<line x1="854.65" y1="961" x2="854.65" y2="964" stroke="#000" stroke-width="1.6" />
<line x1="854.65" y1="1236.5" x2="854.65" y2="1233.5" stroke="#000" stroke-width="1.6" />
<line x1="854.65" y1="1238.5" x2="854.65" y2="1240.5" stroke="#000" stroke-width="1.6" />
<line x1="882.1" y1="961" x2="882.1" y2="965.5" stroke="#000" stroke-width="1.6" />
<line x1="882.1" y1="1236.5" x2="882.1" y2="1232" stroke="#000" stroke-width="1.6" />
<line x1="882.1" y1="1238.5" x2="882.1" y2="1241.5" stroke="#000" stroke-width="1.6" />
<line x1="909.55" y1="961" x2="909.55" y2="964" stroke="#000" stroke-width="1.6" />
<line x1="909.55" y1="1236.5" x2="909.55" y2="1233.5" stroke="#000" stroke-width="1.6" />
<line x1="909.55" y1="1238.5" x2="909.55" y2="1240.5" stroke="#000" stroke-width="1.6" />
<line x1="937" y1="961" x2="937" y2="965.5" stroke="#000" stroke-width="1.6" />
<line x1="937" y1="1236.5" x2="937" y2="1232" stroke="#000" stroke-width="1.6" />
<line x1="937" y1="1238.5" x2="937" y2="1241.5" stroke="#000" stroke-width="1.6" />
<line x1="704.9" y1="1224.15" x2="707.9" y2="1224.15" stroke="#000" stroke-width="1.6" />
<line x1="949.8" y1="1224.15" x2="946.8" y2="1224.15" stroke="#000" stroke-width="1.6" />
<line x1="703" y1="1224.15" x2="700.5" y2="1224.15" stroke="#000" stroke-width="1.6" />
<line x1="704.9" y1="1182.4" x2="709.4" y2="1182.4" stroke="#000" stroke-width="1.6" />
<line x1="949.8" y1="1182.4" x2="945.3" y2="1182.4" stroke="#000" stroke-width="1.6" />
<line x1="703" y1="1182.4" x2="699" y2="1182.4" stroke="#000" stroke-width="1.6" />
<line x1="704.9" y1="1140.65" x2="707.9" y2="1140.65" stroke="#000" stroke-width="1.6" />
<line x1="949.8" y1="1140.65" x2="946.8" y2="1140.65" stroke="#000" stroke-width="1.6" />
<line x1="703" y1="1140.65" x2="700.5" y2="1140.65" stroke="#000" stroke-width="1.6" />
<line x1="704.9" y1="1098.9" x2="709.4" y2="1098.9" stroke="#000" stroke-width="1.6" />
<line x1="949.8" y1="1098.9" x2="945.3" y2="1098.9" stroke="#000" stroke-width="1.6" />
<line x1="703" y1="1098.9" x2="699" y2="1098.9" stroke="#000" stroke-width="1.6" />
<line x1="704.9" y1="1057.15" x2="707.9" y2="1057.15" stroke="#000" stroke-width="1.6" />
<line x1="949.8" y1="1057.15" x2="946.8" y2="1057.15" stroke="#000" stroke-width="1.6" />
<line x1="703" y1="1057.15" x2="700.5" y2="1057.15" stroke="#000" stroke-width="1.6" />
<line x1="704.9" y1="1015.4" x2="709.4" y2="1015.4" stroke="#000" stroke-width="1.6" />
<line x1="949.8" y1="1015.4" x2="945.3" y2="1015.4" stroke="#000" stroke-width="1.6" />
<line x1="703" y1="1015.4" x2="699" y2="1015.4" stroke="#000" stroke-width="1.6" />
<line x1="704.9" y1="973.65" x2="707.9" y2="973.65" stroke="#000" stroke-width="1.6" />
<line x1="949.8" y1="973.65" x2="946.8" y2="973.65" stroke="#000" stroke-width="1.6" />
<line x1="703" y1="973.65" x2="700.5" y2="973.65" stroke="#000" stroke-width="1.6" />
<text transform="translate(624.58,1022.9) scale(1,1.09)" font-size="22" fill="#000" stroke="#000" stroke-width="0.4" >0.0006</text>
<text transform="translate(624.47,1106.4) scale(1,1.09)" font-size="22" fill="#000" stroke="#000" stroke-width="0.4" >0.0000</text>
<text transform="translate(617.25,1189.9) scale(1,1.09)" font-size="22" fill="#000" stroke="#000" stroke-width="0.4" >-0.0006</text>
<text transform="translate(701.44,1262.8) scale(1,1.09)" font-size="22" fill="#000" stroke="#000" stroke-width="0.4" >-80</text>
<text transform="translate(756.34,1262.8) scale(1,1.09)" font-size="22" fill="#000" stroke="#000" stroke-width="0.4" >-40</text>
<text transform="translate(821.08,1262.8) scale(1,1.09)" font-size="22" fill="#000" stroke="#000" stroke-width="0.4" >0</text>
<text transform="translate(870.04,1262.8) scale(1,1.09)" font-size="22" fill="#000" stroke="#000" stroke-width="0.4" >40</text>
<text transform="translate(924.72,1262.8) scale(1,1.09)" font-size="22" fill="#000" stroke="#000" stroke-width="0.4" >80</text>
<text x="803.5" y="1283" font-size="22" fill="#000" stroke="#000" stroke-width="0.4" >H(Oe)</text>
<text transform="translate(613.3,1133.85) rotate(-90)" font-size="22.5" fill="#000" stroke="#000" stroke-width="0.4">M (emu)</text>
</svg></body></html>
